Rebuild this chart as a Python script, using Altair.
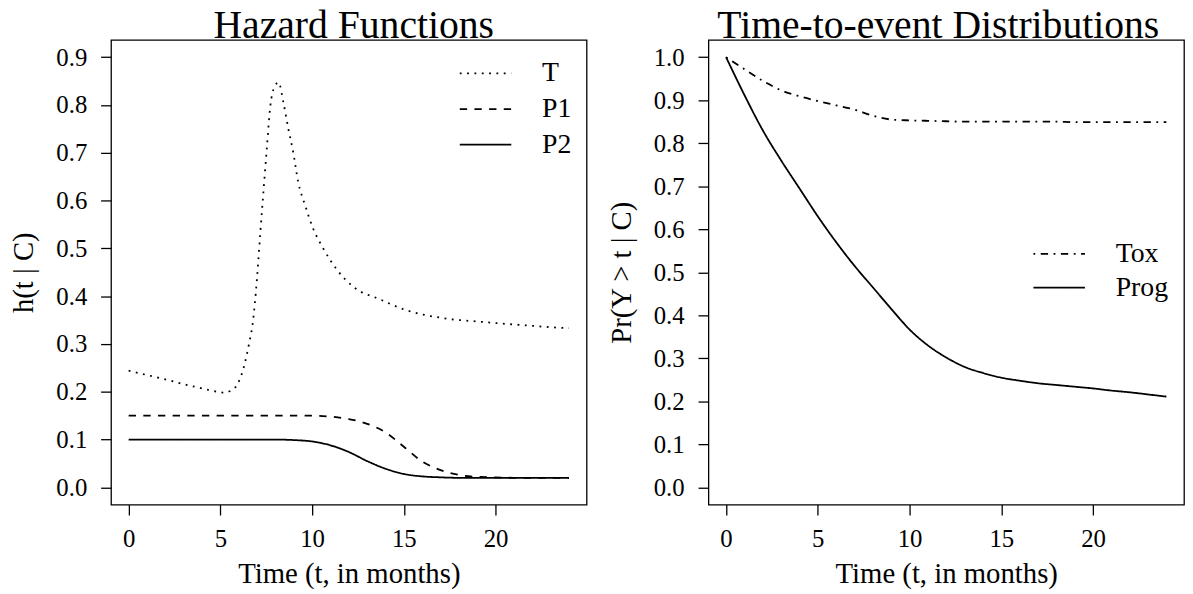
import altair as alt
import pandas as pd

FONT = "Liberation Serif"

# ---------------- Left panel: hazard functions ----------------
t_T = [0, 1, 2, 3, 4, 5, 5.21, 5.5, 5.85, 6.1, 6.3, 6.56, 6.75, 7.0, 7.18, 7.36, 7.54,
       7.72, 7.95, 8.17, 8.44, 8.71, 8.97, 9.24, 9.61, 10.05, 10.59, 11.4, 12.3,
       13.65, 15.18, 17.34, 19.32, 20.9, 22, 23, 24]
h_T = [0.244, 0.235, 0.226, 0.216, 0.207, 0.199, 0.198, 0.201, 0.211, 0.230, 0.255,
       0.300, 0.340, 0.439, 0.535, 0.625, 0.714, 0.797, 0.838, 0.847, 0.804, 0.749,
       0.701, 0.639, 0.591, 0.542, 0.501, 0.453, 0.418, 0.394, 0.370, 0.353, 0.346,
       0.341, 0.338, 0.335, 0.333]

t_grid = list(range(0, 25))
h_P1 = [0.15, 0.15, 0.15, 0.15, 0.15, 0.15, 0.15, 0.15, 0.15, 0.15, 0.15, 0.148,
        0.143, 0.133, 0.115, 0.085, 0.054, 0.036, 0.026, 0.022, 0.021, 0.02, 0.02,
        0.02, 0.02]
h_P2 = [0.10, 0.10, 0.10, 0.10, 0.10, 0.10, 0.10, 0.10, 0.10, 0.099, 0.096, 0.088,
        0.074, 0.055, 0.039, 0.028, 0.023, 0.021, 0.02, 0.02, 0.02, 0.02, 0.02,
        0.02, 0.02]

hazard_series = ["T", "P1", "P2"]

# ---------------- Right panel: time-to-event distributions ----------------
s_Tox = [1.0, 0.972, 0.945, 0.923, 0.909, 0.898, 0.888, 0.878, 0.864, 0.855, 0.853,
         0.852, 0.851, 0.850, 0.850, 0.850, 0.850, 0.850, 0.850, 0.849, 0.849, 0.849,
         0.849, 0.849, 0.849]
s_Prog = [1.0, 0.912, 0.83, 0.76, 0.695, 0.63, 0.57, 0.515, 0.465, 0.415, 0.367,
          0.33, 0.302, 0.28, 0.266, 0.255, 0.248, 0.242, 0.238, 0.234, 0.230, 0.225,
          0.221, 0.216, 0.211]

surv_series = ["Tox", "Prog"]

x_ticks = [0, 5, 10, 15, 20]
y_ticks_left = [0.0, 0.1, 0.2, 0.3, 0.4, 0.5, 0.6, 0.7, 0.8, 0.9]
y_ticks_right = [0.0, 0.1, 0.2, 0.3, 0.4, 0.5, 0.6, 0.7, 0.8, 0.9, 1.0]

df_h = pd.DataFrame({
    "t": t_T + t_grid + t_grid,
    "h": h_T + h_P1 + h_P2,
    "hazard": ["T"] * len(t_T) + ["P1"] * len(t_grid) + ["P2"] * len(t_grid),
})
df_s = pd.DataFrame({
    "t": t_grid + t_grid,
    "s": s_Tox + s_Prog,
    "dist": ["Tox"] * len(t_grid) + ["Prog"] * len(t_grid),
})

W, H = 480, 469
LW = 1.8
DOT = [1.85, 5.55]
DASH = [7.4, 7.4]
DOTDASH = [1.85, 5.55, 7.4, 5.55]
SOLID = [1, 0]

x_scale = alt.Scale(domain=[-0.96, 24.96], nice=False, zero=False)


def legend(x, y, row_h):
    return alt.Legend(
        title=None, orient="none", legendX=x, legendY=y, direction="vertical",
        symbolType="stroke", symbolSize=2704, symbolStrokeWidth=LW,
        symbolStrokeColor="black", labelFont=FONT, labelFontSize=28,
        labelColor="black", labelOffset=30, clipHeight=row_h, rowPadding=0,
        padding=0,
    )


def title(text, dx):
    return alt.Title(text, font=FONT, fontSize=40, fontWeight="normal",
                     color="black", anchor="middle", frame="group",
                     baseline="alphabetic", offset=-38, dx=dx)


left = alt.Chart(df_h).mark_line(color="black", strokeWidth=LW, interpolate="monotone").encode(
    x=alt.X("t:Q", scale=x_scale, axis=alt.Axis(values=x_ticks, title="Time (t, in months)")),
    y=alt.Y("h:Q", scale=alt.Scale(domain=[-0.036, 0.936], nice=False, zero=False),
            axis=alt.Axis(values=y_ticks_left, format=".1f", title="h(t | C)")),
    strokeDash=alt.StrokeDash("hazard:N",
                              scale=alt.Scale(domain=hazard_series, range=[DOT, DASH, SOLID]),
                              legend=legend(351, 16, 35.5)),
).properties(width=W, height=H, title=title("Hazard Functions", 5))

right = alt.Chart(df_s).mark_line(color="black", strokeWidth=LW, interpolate="monotone").encode(
    x=alt.X("t:Q", scale=x_scale, axis=alt.Axis(values=x_ticks, title="Time (t, in months)")),
    y=alt.Y("s:Q", scale=alt.Scale(domain=[-0.04, 1.04], nice=False, zero=False),
            axis=alt.Axis(values=y_ticks_right, format=".1f", title="Pr(Y > t | C)")),
    strokeDash=alt.StrokeDash("dist:N",
                              scale=alt.Scale(domain=surv_series, range=[DOTDASH, SOLID]),
                              legend=legend(327, 199, 34)),
).properties(width=W, height=H, title=title("Time-to-event Distributions", -8))

chart = alt.hconcat(left, right, spacing=19).resolve_scale(
    strokeDash="independent"
).resolve_legend(
    strokeDash="independent"
).properties(
    padding={"left": 1, "top": -5.5, "right": 0, "bottom": 0}
).configure_view(
    stroke="black", strokeWidth=1.3
).configure_axis(
    labelFont=FONT, labelFontSize=25, labelColor="black",
    titleFont=FONT, titleFontSize=29, titleFontWeight="normal", titleColor="black",
    tickColor="black", tickSize=10.5, tickWidth=1.3, domain=False, grid=False,
    labelFlush=False,
).configure_axisX(
    labelPadding=12, titleY=79, titleBaseline="alphabetic",
).configure_axisY(
    labelPadding=14, titleX=-79, titleBaseline="alphabetic",
)

chart.save("out.html", embed_options={"renderer": "svg", "actions": False})
